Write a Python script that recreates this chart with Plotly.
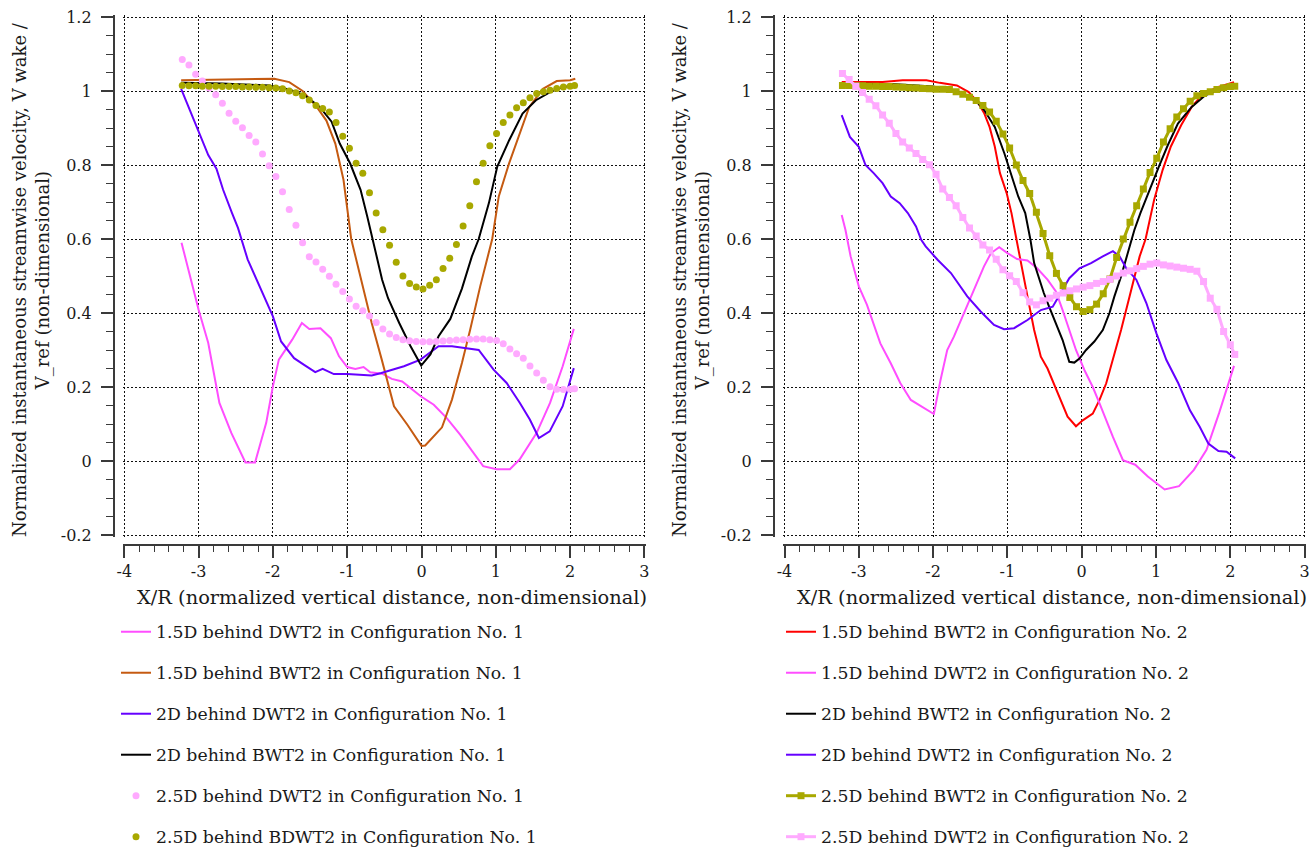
import plotly.graph_objects as go

# ---------------- data: Configuration No. 1 ----------------
c1_15d_dwt2_x = [-3.23, -3.0, -2.87, -2.72, -2.56, -2.37, -2.24, -2.09, -2.0, -1.92, -1.74, -1.61, -1.51, -1.36,
                 -1.22, -1.11, -1.0, -0.89, -0.78, -0.69, -0.53, -0.40, -0.26, -0.01, 0.165, 0.34, 0.52, 0.70,
                 0.83, 1.01, 1.19, 1.32, 1.55, 1.73, 1.90, 2.05]
c1_15d_dwt2_v = [0.59, 0.409, 0.319, 0.157, 0.076, -0.004, -0.004, 0.103, 0.202, 0.274, 0.328, 0.373, 0.357, 0.359,
                 0.332, 0.283, 0.254, 0.249, 0.254, 0.24, 0.236, 0.222, 0.215, 0.175, 0.152, 0.116, 0.071, 0.022,
                 -0.014, -0.022, -0.022, 0.004, 0.076, 0.157, 0.256, 0.357]

c1_15d_bwt2_x = [-3.235, -2.6, -1.98, -1.78, -1.6, -1.41, -1.28, -1.16, -1.05, -0.946, -0.80, -0.67, -0.535, -0.37,
                 -0.19, 0.0, 0.05, 0.276, 0.41, 0.544, 0.655, 0.79, 0.952, 1.04, 1.18, 1.32, 1.45, 1.635, 1.82,
                 2.0, 2.07]
c1_15d_bwt2_v = [1.029, 1.031, 1.033, 1.024, 1.0, 0.957, 0.92, 0.858, 0.76, 0.6, 0.481, 0.373, 0.274, 0.148,
                 0.098, 0.041, 0.042, 0.091, 0.166, 0.265, 0.355, 0.472, 0.6, 0.715, 0.805, 0.885, 0.957, 1.006,
                 1.027, 1.029, 1.033]

c1_2d_dwt2_x = [-3.235, -3.1, -2.985, -2.87, -2.76, -2.67, -2.55, -2.47, -2.34, -2.18, -2.0, -1.89, -1.715, -1.58,
                -1.43, -1.33, -1.18, -1.0, -0.85, -0.67, -0.54, -0.236, -0.013, 0.23, 0.41, 0.59, 0.77, 0.97,
                1.146, 1.324, 1.458, 1.58, 1.725, 1.90, 2.05]
c1_2d_dwt2_v = [1.006, 0.939, 0.885, 0.827, 0.79, 0.733, 0.67, 0.63, 0.545, 0.472, 0.391, 0.323, 0.278, 0.26,
                0.24, 0.249, 0.235, 0.235, 0.233, 0.231, 0.238, 0.256, 0.274, 0.31, 0.31, 0.305, 0.30, 0.247,
                0.211, 0.157, 0.112, 0.062, 0.08, 0.148, 0.251]

c1_2d_bwt2_x = [-3.235, -2.69, -2.05, -1.78, -1.57, -1.37, -1.21, -1.1, -0.96, -0.82, -0.73, -0.66, -0.53, -0.45,
                -0.30, -0.147, -0.004, 0.12, 0.23, 0.388, 0.544, 0.678, 0.77, 0.907, 1.02, 1.18, 1.36, 1.54,
                1.73, 1.91, 2.07]
c1_2d_bwt2_v = [1.022, 1.02, 1.015, 1.004, 0.988, 0.957, 0.917, 0.858, 0.804, 0.733, 0.661, 0.598, 0.49, 0.44,
                0.373, 0.31, 0.258, 0.288, 0.337, 0.384, 0.466, 0.553, 0.6, 0.697, 0.796, 0.867, 0.939, 0.975,
                0.997, 1.011, 1.015]

# sampled stations of the 2.5D traverses
dot_x = [-3.22, -3.13, -3.04, -2.95, -2.86, -2.77, -2.68, -2.59, -2.50, -2.41, -2.32, -2.23, -2.14, -2.05,
         -1.96, -1.87, -1.78, -1.69, -1.60, -1.51, -1.42, -1.33, -1.24, -1.15, -1.06, -0.97, -0.88, -0.79,
         -0.70, -0.61, -0.52, -0.43, -0.34, -0.25, -0.16, -0.07, 0.02, 0.11, 0.20, 0.29, 0.38, 0.47, 0.56,
         0.65, 0.74, 0.83, 0.92, 1.01, 1.10, 1.19, 1.28, 1.37, 1.46, 1.55, 1.64, 1.73, 1.82, 1.91, 2.00, 2.06]

c1_25d_dwt2_v = [1.085, 1.07, 1.045, 1.027, 1.008, 0.99, 0.967, 0.94, 0.918, 0.901, 0.88, 0.862, 0.83, 0.798,
                 0.769, 0.728, 0.68, 0.637, 0.59, 0.552, 0.538, 0.518, 0.499, 0.478, 0.458, 0.438, 0.418, 0.406,
                 0.392, 0.374, 0.357, 0.343, 0.334, 0.328, 0.325, 0.323, 0.322, 0.322, 0.323, 0.324, 0.326, 0.327,
                 0.328, 0.329, 0.33, 0.33, 0.328, 0.326, 0.317, 0.303, 0.29, 0.278, 0.257, 0.238, 0.218, 0.201,
                 0.194, 0.193, 0.194, 0.195]

c1_25d_bdwt2_v = [1.015, 1.014, 1.014, 1.013, 1.013, 1.013, 1.012, 1.012, 1.012, 1.011, 1.011, 1.01, 1.01, 1.009,
                  1.008, 1.006, 1.0, 0.995, 0.987, 0.976, 0.961, 0.953, 0.943, 0.915, 0.878, 0.845, 0.805, 0.778,
                  0.725, 0.67, 0.625, 0.583, 0.537, 0.5, 0.48, 0.47, 0.465, 0.475, 0.49, 0.52, 0.548, 0.585,
                  0.635, 0.69, 0.755, 0.805, 0.852, 0.885, 0.915, 0.935, 0.955, 0.968, 0.982, 0.993, 0.998, 1.002,
                  1.007, 1.011, 1.013, 1.015]

# ---------------- data: Configuration No. 2 ----------------
c2_15d_bwt2_x = [-3.23, -2.68, -2.41, -2.09, -1.91, -1.68, -1.52, -1.40, -1.31, -1.24, -1.17, -1.1, -1.01, -0.945,
                 -0.877, -0.82, -0.73, -0.64, -0.55, -0.46, -0.325, -0.19, -0.077, 0.014, 0.149, 0.24, 0.33,
                 0.42, 0.53, 0.645, 0.78, 0.86, 0.975, 1.09, 1.2, 1.34, 1.48, 1.64, 1.84, 2.05]
c2_15d_bwt2_v = [1.024, 1.024, 1.029, 1.029, 1.022, 1.015, 0.997, 0.97, 0.939, 0.903, 0.85, 0.778, 0.724, 0.67,
                 0.598, 0.535, 0.445, 0.354, 0.282, 0.25, 0.183, 0.12, 0.094, 0.11, 0.128, 0.165, 0.21,
                 0.273, 0.354, 0.445, 0.553, 0.6, 0.706, 0.787, 0.85, 0.908, 0.957, 0.993, 1.011, 1.024]

c2_15d_dwt2_x = [-3.23, -3.18, -3.11, -3.0, -2.89, -2.80, -2.71, -2.57, -2.44, -2.30, -2.145, -1.99, -1.9, -1.81,
                 -1.72, -1.585, -1.45, -1.315, -1.22, -1.11, -1.0, -0.87, -0.73, -0.6, -0.46, -0.347, -0.257,
                 -0.167, -0.077, 0.036, 0.149, 0.24, 0.33, 0.42, 0.555, 0.72, 0.89, 1.116, 1.31, 1.51, 1.68,
                 1.85, 2.05]
c2_15d_dwt2_v = [0.665, 0.625, 0.553, 0.472, 0.422, 0.372, 0.318, 0.264, 0.21, 0.165, 0.147, 0.127, 0.219, 0.3,
                 0.336, 0.4, 0.463, 0.526, 0.562, 0.578, 0.562, 0.546, 0.542, 0.521, 0.49, 0.458, 0.408,
                 0.354, 0.30, 0.246, 0.2, 0.156, 0.11, 0.065, 0.002, -0.01, -0.042, -0.077, -0.068, -0.024, 0.03,
                 0.13, 0.257]

c2_2d_bwt2_x = [-3.23, -2.5, -2.0, -1.7, -1.52, -1.40, -1.31, -1.17, -1.04, -0.945, -0.854, -0.76, -0.69, -0.64,
                -0.51, -0.44, -0.347, -0.257, -0.167, -0.1, -0.03, 0.059, 0.17, 0.284, 0.374, 0.44, 0.53, 0.62,
                0.71, 0.79, 0.93, 1.04, 1.16, 1.295, 1.48, 1.66, 1.89, 2.05]
c2_2d_bwt2_v = [1.02, 1.018, 1.012, 1.0, 0.985, 0.968, 0.948, 0.903, 0.831, 0.769, 0.715, 0.67, 0.598, 0.535,
                0.454, 0.418, 0.372, 0.327, 0.268, 0.266, 0.277, 0.3, 0.323, 0.354, 0.4, 0.445, 0.499, 0.562,
                0.625, 0.67, 0.742, 0.796, 0.854, 0.912, 0.957, 0.988, 1.006, 1.011]

c2_2d_dwt2_x = [-3.23, -3.12, -3.0, -2.91, -2.80, -2.68, -2.57, -2.45, -2.34, -2.23, -2.16, -2.10, -1.94, -1.76,
                -1.54, -1.36, -1.18, -1.045, -0.91, -0.73, -0.55, -0.39, -0.257, -0.167, -0.03, 0.126, 0.284,
                0.42, 0.51, 0.6, 0.735, 0.87, 1.006, 1.14, 1.30, 1.457, 1.59, 1.705, 1.84, 1.95, 2.066]
c2_2d_dwt2_v = [0.935, 0.876, 0.849, 0.8, 0.778, 0.751, 0.715, 0.697, 0.67, 0.634, 0.598, 0.58, 0.544, 0.508,
                0.445, 0.404, 0.368, 0.356, 0.359, 0.381, 0.408, 0.417, 0.463, 0.494, 0.521, 0.535, 0.553,
                0.567, 0.553, 0.521, 0.49, 0.427, 0.345, 0.273, 0.21, 0.137, 0.092, 0.047, 0.027, 0.025, 0.007]

c2_25d_bwt2_v = [1.015, 1.015, 1.014, 1.014, 1.013, 1.013, 1.012, 1.012, 1.011, 1.01, 1.009, 1.008, 1.007, 1.006,
                 1.005, 1.005, 1.004, 0.998, 0.991, 0.983, 0.974, 0.961, 0.943, 0.918, 0.884, 0.846, 0.8, 0.758,
                 0.723, 0.672, 0.615, 0.555, 0.507, 0.474, 0.442, 0.417, 0.404, 0.409, 0.424, 0.452, 0.492, 0.55,
                 0.6, 0.645, 0.69, 0.735, 0.78, 0.818, 0.862, 0.898, 0.93, 0.952, 0.972, 0.987, 0.993, 0.998,
                 1.004, 1.009, 1.012, 1.013]

c2_25d_dwt2_v = [1.047, 1.031, 1.013, 0.996, 0.978, 0.96, 0.935, 0.913, 0.885, 0.862, 0.846, 0.831, 0.815, 0.801,
                 0.775, 0.735, 0.712, 0.69, 0.658, 0.63, 0.608, 0.584, 0.57, 0.545, 0.517, 0.501, 0.485, 0.455,
                 0.43, 0.422, 0.433, 0.44, 0.448, 0.454, 0.46, 0.465, 0.47, 0.474, 0.48, 0.485, 0.491, 0.5,
                 0.508, 0.514, 0.52, 0.526, 0.532, 0.535, 0.53, 0.527, 0.524, 0.521, 0.518, 0.513, 0.485, 0.44,
                 0.41, 0.35, 0.314, 0.288]

# ---------------- axis ticks ----------------
x_ticks = [-4, -3, -2, -1, 0, 1, 2, 3]
x_tick_text = ["-4", "-3", "-2", "-1", "0", "1", "2", "3"]
y_ticks = [-0.2, 0, 0.2, 0.4, 0.6, 0.8, 1.0, 1.2]
y_tick_text = ["-0.2", "0", "0.2", "0.4", "0.6", "0.8", "1", "1.2"]

x_title = "X/R (normalized vertical distance, non-dimensional)"
y_title = "Normalized instantaneous streamwise velocity, V wake /<br>V_ref (non-dimensional)"

# ---------------- styling ----------------
W, H = 1316, 849
FONT = "DejaVu Serif"
TXT = "#1a1a1a"
AX = "#3a3a3a"

MAGENTA = "#FF4DFF"
BROWN = "#C55A11"
PURPLE = "#6600FF"
BLACK = "#000000"
PINK = "#FFAAFF"
OLIVE = "#A8A800"
RED = "#FF0000"

fig = go.Figure()


def line(x, y, name, color, leg, axes, grp):
    fig.add_trace(go.Scatter(x=x, y=y, mode="lines", name=name, line=dict(color=color, width=2),
                             legend=leg, legendgroup=grp, xaxis=axes[0], yaxis=axes[1]))


# Configuration No. 1 (left panel)
A1 = ("x", "y")
line(c1_15d_dwt2_x, c1_15d_dwt2_v, "1.5D behind DWT2 in Configuration No. 1", MAGENTA, "legend", A1, "a1")
line(c1_15d_bwt2_x, c1_15d_bwt2_v, "1.5D behind BWT2 in Configuration No. 1", BROWN, "legend", A1, "a2")
line(c1_2d_dwt2_x, c1_2d_dwt2_v, "2D behind DWT2 in Configuration No. 1", PURPLE, "legend", A1, "a3")
line(c1_2d_bwt2_x, c1_2d_bwt2_v, "2D behind BWT2 in Configuration No. 1", BLACK, "legend", A1, "a4")
fig.add_trace(go.Scatter(x=dot_x, y=c1_25d_dwt2_v, mode="markers", name="2.5D behind DWT2 in Configuration No. 1",
                         marker=dict(color=PINK, size=7, symbol="circle", line=dict(width=0)),
                         legend="legend", legendgroup="a5", xaxis="x", yaxis="y"))
fig.add_trace(go.Scatter(x=dot_x, y=c1_25d_bdwt2_v, mode="markers", name="2.5D behind BDWT2 in Configuration No. 1",
                         marker=dict(color=OLIVE, size=7, symbol="circle", line=dict(width=0)),
                         legend="legend", legendgroup="a6", xaxis="x", yaxis="y"))

# Configuration No. 2 (right panel)
A2 = ("x2", "y2")
line(c2_15d_bwt2_x, c2_15d_bwt2_v, "1.5D behind BWT2 in Configuration No. 2", RED, "legend2", A2, "b1")
line(c2_15d_dwt2_x, c2_15d_dwt2_v, "1.5D behind DWT2 in Configuration No. 2", MAGENTA, "legend2", A2, "b2")
line(c2_2d_bwt2_x, c2_2d_bwt2_v, "2D behind BWT2 in Configuration No. 2", BLACK, "legend2", A2, "b3")
line(c2_2d_dwt2_x, c2_2d_dwt2_v, "2D behind DWT2 in Configuration No. 2", PURPLE, "legend2", A2, "b4")
fig.add_trace(go.Scatter(x=dot_x, y=c2_25d_bwt2_v, mode="lines+markers", name="2.5D behind BWT2 in Configuration No. 2",
                         line=dict(color=OLIVE, width=3),
                         marker=dict(color=OLIVE, size=7, symbol="square", line=dict(width=0)),
                         legend="legend2", legendgroup="b5", xaxis="x2", yaxis="y2"))
fig.add_trace(go.Scatter(x=dot_x, y=c2_25d_dwt2_v, mode="lines+markers", name="2.5D behind DWT2 in Configuration No. 2",
                         line=dict(color=PINK, width=3),
                         marker=dict(color=PINK, size=7, symbol="square", line=dict(width=0)),
                         legend="legend2", legendgroup="b6", xaxis="x2", yaxis="y2"))

# ---------------- layout ----------------
XR = [-4.02, 3.02]
YR = [-0.205, 1.205]
px_per_x = 74.3
px_per_y = 370.0


def xdom(x_at_m4):
    left = x_at_m4 - 0.02 * px_per_x
    right = x_at_m4 + 7.02 * px_per_x
    return [left / W, right / W]


ydom = [1 - (535 + 0.005 * px_per_y) / H, 1 - (17 - 0.005 * px_per_y) / H]

common_x = dict(range=XR, tickmode="array", tickvals=x_ticks, ticktext=x_tick_text,
                showgrid=True, gridcolor="#111111", griddash="2px,2px", gridwidth=1, zeroline=False,
                showline=True, linecolor=AX, linewidth=2, ticks="outside", ticklen=12, tickwidth=1.5,
                tickcolor=AX, tickfont=dict(family=FONT, size=16, color=TXT), ticklabelstandoff=0,
                minor=dict(tickmode="linear", tick0=0, dtick=0.2, ticks="outside", ticklen=6,
                           tickcolor=AX, tickwidth=1.2, showgrid=False),
                anchor="free", position=1 - 545 / H)
common_y = dict(range=YR, tickmode="array", tickvals=y_ticks, ticktext=y_tick_text,
                showgrid=True, gridcolor="#111111", griddash="2px,2px", gridwidth=1, zeroline=False,
                showline=True, linecolor=AX, linewidth=2, ticks="outside", ticklen=12, tickwidth=1.5,
                tickcolor=AX, tickfont=dict(family=FONT, size=16, color=TXT), ticklabelstandoff=6,
                minor=dict(tickmode="linear", tick0=0, dtick=0.05, ticks="outside", ticklen=7,
                           tickcolor=AX, tickwidth=1.2, showgrid=False),
                anchor="free", domain=ydom)

fig.update_layout(
    width=W, height=H, margin=dict(l=0, r=0, t=0, b=0, autoexpand=False),
    paper_bgcolor="white", plot_bgcolor="white",
    font=dict(family=FONT, size=17, color=TXT),
    xaxis=dict(common_x, domain=xdom(124.3)),
    yaxis=dict(common_y, position=113.8 / W),
    xaxis2=dict(common_x, domain=xdom(784.5)),
    yaxis2=dict(common_y, position=773.8 / W),
    legend=dict(x=116 / W, y=1 - 614 / H, xanchor="left", yanchor="top", bgcolor="rgba(0,0,0,0)",
                font=dict(family=FONT, size=17.3, color=TXT), tracegroupgap=15.5),
    legend2=dict(x=781 / W, y=1 - 614 / H, xanchor="left", yanchor="top", bgcolor="rgba(0,0,0,0)",
                 font=dict(family=FONT, size=17.3, color=TXT), tracegroupgap=15.5),
)

# axis titles
for cx, ylx in ((392, 31), (1052, 691)):
    fig.add_annotation(text=x_title, x=cx / W, y=1 - 597 / H, xref="paper", yref="paper",
                       xanchor="center", yanchor="middle", showarrow=False,
                       font=dict(family=FONT, size=19.4, color=TXT))
    fig.add_annotation(text=y_title, x=ylx / W, y=1 - 280 / H, xref="paper", yref="paper",
                       xanchor="center", yanchor="middle", showarrow=False, textangle=-90,
                       font=dict(family=FONT, size=18, color=TXT))

fig.write_html("out.html")
